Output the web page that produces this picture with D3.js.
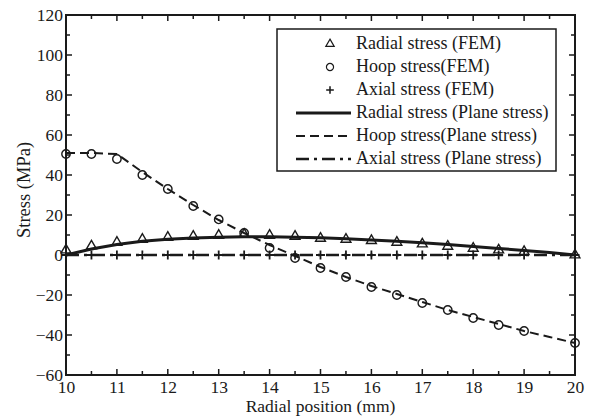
<!DOCTYPE html>
<html>
<head>
<meta charset="utf-8" />
<script src="https://d3js.org/d3.v7.min.js"></script>
<style>
  body { margin: 0; background: #fff; }
</style>
</head>
<body>
<svg id="chart" width="590" height="418"></svg>
<script>
// FEM sample positions (mm) and values (MPa)
var xFem = [10, 10.5, 11, 11.5, 12, 12.5, 13, 13.5, 14, 14.5, 15, 15.5, 16, 16.5, 17, 17.5, 18, 18.5, 19, 20];
var radialFem = [2.5, 4.5, 6.3, 7.8, 8.8, 9.3, 9.8, 10.3, 9.8, 9.3, 8.3, 7.8, 7.2, 6.3, 5.5, 4.3, 3.3, 2.5, 1.7, 0];
var hoopFem = [50.5, 50.5, 48, 40, 33, 24.5, 17.8, 11, 3.5, -1.5, -6.5, -11, -16, -20, -24, -27.5, -31.5, -35, -38, -44];
var axialFem = [0, 0, 0, 0, 0, 0, 0, 0, 0, 0, 0, 0, 0, 0, 0, 0, 0, 0, 0, 0];

// plane stress solution
var xPlane = [10, 10.5, 11, 11.5, 12, 12.5, 13, 13.5, 14, 14.5, 15, 15.5, 16, 16.5, 17, 17.5, 18, 18.5, 19, 19.5, 20];
var radialPlane = [0, 3, 5.3, 6.9, 7.9, 8.5, 8.9, 9.1, 9.1, 8.9, 8.6, 8.1, 7.5, 6.9, 6.1, 5.2, 4.3, 3.3, 2.3, 1.2, 0];
var hoopPlane = [51, 51, 50.5, 41.5, 33, 25, 17.5, 11, 5, -0.5, -6, -11, -15.5, -19.5, -23.5, -27.5, -31, -34.5, -38, -41, -44];
var axialPlane = [0, 0, 0, 0, 0, 0, 0, 0, 0, 0, 0, 0, 0, 0, 0, 0, 0, 0, 0, 0, 0];

var xTicks = [10, 11, 12, 13, 14, 15, 16, 17, 18, 19, 20];
var yTicks = [-60, -40, -20, 0, 20, 40, 60, 80, 100, 120];

var legendLabels = ["Radial stress (FEM)", "Hoop stress(FEM)", "Axial stress (FEM)",
                    "Radial stress (Plane stress)", "Hoop stress(Plane stress)", "Axial stress (Plane stress)"];

var FONT = "Liberation Serif";
var svg = d3.select("#chart");
var ink = "#1a1a1a";
var margin = {top: 15, right: 15, bottom: 43, left: 66};
var width = 590 - margin.left - margin.right,
    height = 418 - margin.top - margin.bottom;

var x = d3.scaleLinear().domain([10, 20]).range([0, width]);
var y = d3.scaleLinear().domain([-60, 120]).range([height, 0]);

var g = svg.append("g").attr("transform", "translate(" + margin.left + "," + margin.top + ")");

// ticks, inside, on all four sides
var xMinor = d3.range(10.5, 20, 1), yMinor = d3.range(-50, 120, 20);
function tickSet(vals, len, side) {
  vals.forEach(function(v) {
    var l = g.append("line").attr("stroke", ink).attr("stroke-width", 1.5);
    if (side === "b") l.attr("x1", x(v)).attr("x2", x(v)).attr("y1", height).attr("y2", height - len);
    if (side === "t") l.attr("x1", x(v)).attr("x2", x(v)).attr("y1", 0).attr("y2", len);
    if (side === "l") l.attr("y1", y(v)).attr("y2", y(v)).attr("x1", 0).attr("x2", len);
    if (side === "r") l.attr("y1", y(v)).attr("y2", y(v)).attr("x1", width).attr("x2", width - len);
  });
}
tickSet(xTicks, 6, "b"); tickSet(xTicks, 6, "t");
tickSet(xMinor, 4, "b"); tickSet(xMinor, 4, "t");
tickSet(yTicks, 6, "l"); tickSet(yTicks, 6, "r");
tickSet(yMinor, 4, "l"); tickSet(yMinor, 4, "r");

// tick labels
var xAxis = g.append("g").attr("transform", "translate(0," + height + ")")
  .call(d3.axisBottom(x).tickValues(xTicks).tickSize(0).tickPadding(6).tickFormat(d3.format("d")));
var yAxis = g.append("g")
  .call(d3.axisLeft(y).tickValues(yTicks).tickSize(0).tickPadding(3).tickFormat(d3.format("d")));
[xAxis, yAxis].forEach(function(a) {
  a.select(".domain").remove();
  a.selectAll("text").style("font-family", FONT).style("font-size", "17.5px").attr("fill", ink);
});

// frame
g.append("rect").attr("width", width).attr("height", height)
  .attr("fill", "none").attr("stroke", ink).attr("stroke-width", 2);

// plane stress lines
function lineOf(ys) {
  return d3.line().x(function(d, i) { return x(xPlane[i]); }).y(function(d) { return y(d); })(ys);
}
var styles = [
  {w: 3, dash: null},
  {w: 2, dash: "9,5"},
  {w: 2.5, dash: "13,5,3,5"}
];
[radialPlane, hoopPlane, axialPlane].forEach(function(ys, k) {
  g.append("path").attr("d", lineOf(ys)).attr("fill", "none").attr("stroke", ink)
    .attr("stroke-width", styles[k].w).attr("stroke-dasharray", styles[k].dash);
});

// FEM markers
var tri = d3.symbol().type(d3.symbolTriangle).size(42);
function marker(sel, kind) {
  if (kind === 0) return sel.append("path").attr("d", tri).attr("fill", "none").attr("stroke", ink).attr("stroke-width", 1.4);
  if (kind === 1) return sel.append("circle").attr("r", 4.2).attr("fill", "none").attr("stroke", ink).attr("stroke-width", 1.4);
  return sel.append("path").attr("d", "M-4.5,0H4.5M0,-4.5V4.5").attr("stroke", ink).attr("stroke-width", 1.8);
}
[radialFem, hoopFem, axialFem].forEach(function(ys, k) {
  ys.forEach(function(v, i) {
    var m = g.append("g").attr("transform", "translate(" + x(xFem[i]) + "," + y(v) + ")");
    marker(m, k);
  });
});

// axis titles
svg.append("text").attr("x", margin.left + width / 2).attr("y", 412)
  .attr("text-anchor", "middle").style("font-family", FONT).style("font-size", "17.5px")
  .attr("fill", ink).text("Radial position (mm)");
svg.append("text").attr("transform", "translate(30,190) rotate(-90)")
  .attr("text-anchor", "middle").style("font-family", FONT).style("font-size", "18.5px")
  .attr("fill", ink).text("Stress (MPa)");

// legend
var lg = svg.append("g");
lg.append("rect").attr("x", 277).attr("y", 29).attr("width", 279).attr("height", 142)
  .attr("fill", "#fff").attr("stroke", ink).attr("stroke-width", 1.5);
legendLabels.forEach(function(t, i) {
  var cy = 44 + i * 23;
  var row = lg.append("g");
  if (i < 3) {
    var m = row.append("g").attr("transform", "translate(330," + cy + ")");
    marker(m, i).attr("transform", "scale(0.85)");
  } else {
    var s = styles[i - 3];
    row.append("line").attr("x1", 296).attr("x2", 351).attr("y1", cy).attr("y2", cy)
      .attr("stroke", ink).attr("stroke-width", s.w).attr("stroke-dasharray", s.dash);
  }
  row.append("text").attr("x", 356).attr("y", cy + 5).style("font-family", FONT)
    .style("font-size", "18px").attr("fill", ink).text(t);
});
</script>
</body>
</html>
